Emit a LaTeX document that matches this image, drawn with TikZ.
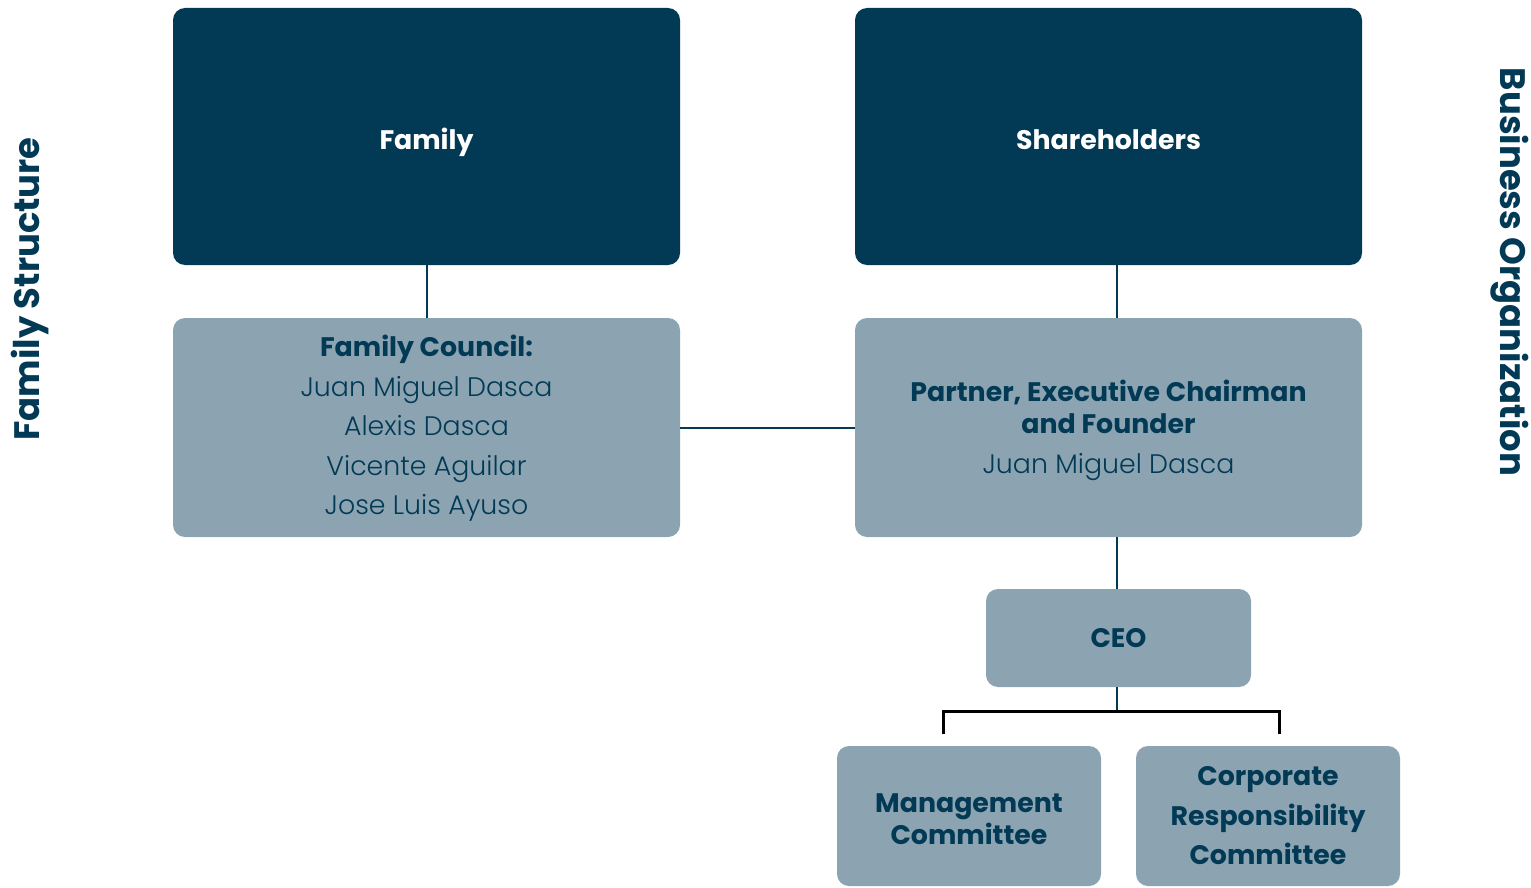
\documentclass[tikz,border=0pt]{standalone}
\usepackage{fontspec}
\setmainfont{Poppins}
\newfontfamily\namefont{Poppins Light}
\usepackage{xcolor}
\usetikzlibrary{positioning, calc}

\definecolor{navy}{HTML}{023A56}
\definecolor{steel}{HTML}{8CA4B1}

% pushes the first line of a box down a little
\newcommand{\topstrut}[1]{\rule{0pt}{#1}}

\begin{document}
\begin{tikzpicture}[
    x=0.5pt, y=-0.5pt,
    box/.style={rounded corners=6pt, align=center, inner sep=0pt,
                text=navy, font=\fontsize{13.4}{19.75}\selectfont\bfseries},
    topbox/.style={box, fill=navy, text=white, text height=13.5pt, text depth=1pt,
                   minimum width=253.5pt, minimum height=128.5pt},
    midbox/.style={box, fill=steel, minimum width=253.5pt, minimum height=109.5pt},
    smallbox/.style={box, fill=steel, minimum width=132pt, minimum height=70pt},
    link/.style={draw=navy, line width=1pt},
    bracket/.style={draw=black, line width=1.5pt},
    side/.style={text=navy, font=\fontsize{17.7}{20}\selectfont\bfseries},
]
\useasboundingbox (0,0) rectangle (1531,888);

% Top row
\node[topbox] (family) at (426.5,136.5) {Family};
\node[topbox] (share) at (1108.5,136.5) {Shareholders};

% Councils and chair
\node[midbox] (council) at (426.5,427.5) {\topstrut{11.5pt}Family Council:\\
  {\namefont\mdseries Juan Miguel Dasca}\\
  {\namefont\mdseries Alexis Dasca}\\
  {\namefont\mdseries Vicente Aguilar}\\
  {\namefont\mdseries Jose Luis Ayuso}};
\node[midbox] (chair) at (1108.5,427.5) {\topstrut{13.5pt}Partner, Executive Chairman\\[-3.5pt]
  and Founder\\
  {\namefont\mdseries Juan Miguel Dasca}};

% CEO and committees
\node[box, fill=steel, minimum width=132.5pt, minimum height=49pt] (ceo) at (1118.5,638) {CEO};
\node[smallbox] (mgmt) at (969,816) {\topstrut{12.5pt}Management\\[-3.5pt]Committee};
\node[smallbox] (csr) at (1268,816) {Corporate\\Responsibility\\Committee};

% Connectors
\coordinate (spine) at (1117,711);
\coordinate (mgmtdrop) at (943,734);
\coordinate (csrdrop) at (1279,734);
\draw[link] (family) -- (council);
\draw[link] (council) -- (chair);
\draw[link] (share.south -| spine) -- (chair.north -| spine);
\draw[link] (chair.south -| spine) -- (ceo.north -| spine);
\draw[link] (ceo.south -| spine) -- (spine);
\draw[bracket] (mgmtdrop) |- (spine) -| (csrdrop);

% Side titles
\node[side, rotate=90] (famlabel) at (30,289) {Family Structure};
\node[side, rotate=-90] (buslabel) at (1510,272) {Business Organization};

\end{tikzpicture}
\end{document}
